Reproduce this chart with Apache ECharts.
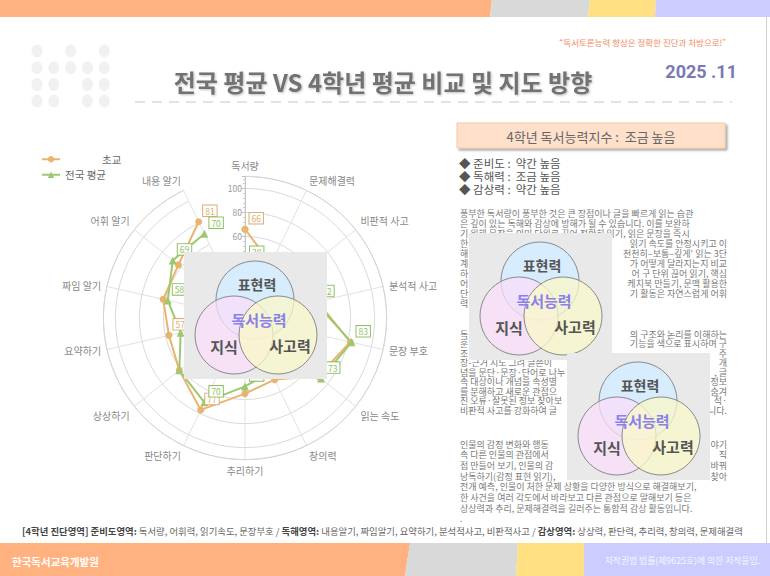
<!DOCTYPE html>
<html>
<head>
<meta charset="utf-8">
<title>전국 평균 VS 4학년 평균 비교 및 지도 방향</title>
<script src="https://cdn.jsdelivr.net/npm/echarts@6/dist/echarts.min.js"></script>
<style>
html, body { margin: 0; padding: 0; background: #fff; }
#chart { width: 770px; height: 576px; }
</style>
</head>
<body>
<div id="chart"></div>
<script>
// 진단 항목 (위에서부터 시계 방향)
const indicators = ['독서량', '문제해결력', '비판적 사고', '분석적 사고', '문장 부호', '읽는 속도', '창의력',
    '추리하기', '판단하기', '상상하기', '요약하기', '짜임 알기', '어휘 알기', '내용 알기']
const schoolValues = [66, 42, 48, 54, 82, 70, 49, 55, 77, 62, 57, 62, 63, 81]   // 초교
const nationalValues = [38, 40, 45, 52, 83, 73, 42, 49, 70, 62, 47, 58, 69, 70] // 전국 평균
const seriesNames = ['초교', '전국 평균']
const tickLabels = [60, 80, 100]

// 값 상자가 보이는 항목 (그 밖의 값 상자는 그림에 가려짐)
const schoolLabelAt = [0, 8, 10, 13]
const nationalLabelAt = [0, 3, 4, 5, 7, 8, 11, 12, 13]

const levelLines = ['◆ 준비도 :  약간 높음', '◆ 독해력 :  조금 높음', '◆ 감상력 :  약간 높음']

// [왼쪽부터, 오른쪽 끝에 맞춘 부분] - 그림에 가려진 가운데는 뺌
const para1 = [
    ['풍부한 독서량이 풍부한 것은 큰 장점이나 글을 빠르게 읽는 습관', ''],
    ['은 깊이 있는 독해와 감상에 방해가 될 수 있습니다. 이를 보완하', ''],
    ['기 위해 문장을 의미 단위로 끊어 정확히 읽기, 읽은 문장을 즉시', ''],
    ['한', '읽기 속도를 안정시키고 이'],
    ['해', '천천히–보통–깊게\' 읽는 3단'],
    ['계', '가 어떻게 달라지는지 비교'],
    ['하', '어 구 단위 끊어 읽기, 핵심'],
    ['어', '케치북 만들기, 문맥 활용한'],
    ['단', '기 활동은 자연스럽게 어휘'],
    ['력.', '']
]
const para2 = [
    ['독', '의 구조와 논리를 이해하는'],
    ['훈', '기능을 색으로 표시하며 구'],
    ['조', '주'],
    ['장-근거 지도 그려 글쓴이', '개'],
    ['념을 문단·문장·단어로 나누', ', 글'],
    ['속 대상이나 개념을 속성별', '정보'],
    ['를 분해하고 새로운 관점으', '숨겨'],
    ['진 오류·잘못된 정보 찾아보', '적·'],
    ['비판적 사고를 강화하여 글', '니다.']
]
const para3 = [
    ['인물의 감정 변화와 행동', '야기'],
    ['속 다른 인물의 관점에서', '직'],
    ['접 만들어 보기, 인물의 감', '바꿔'],
    ['낭독하기(감정 표현 읽기),', '찾아'],
    ['전개 예측, 인물이 처한 문제 상황을 다양한 방식으로 해결해보기,', ''],
    ['한 사건을 여러 각도에서 바라보고 다른 관점으로 말해보기 등은', ''],
    ['상상력과 추리, 문제해결력을 길러주는 통합적 감상 활동입니다.', '']
]

const KR = '"Noto Sans CJK KR", "Noto Sans", sans-serif'
const ORANGE = '#ebb46e'
const GREEN = '#9cc870'

const text = (x, y, str, size, color, extra) => ({
    type: 'text', x: x, y: y, z: 5,
    style: Object.assign({
        text: str, fontSize: size, fontFamily: KR, fill: color,
        align: 'left', verticalAlign: 'middle'
    }, extra || {})
})

const poly = (points, color) => ({type: 'polygon', z: 1, shape: {points: points}, style: {fill: color}})

// 벤 다이어그램 그림 (표현력 / 지식 / 사고력)
function venn(x, y) {
    const kids = [
        {type: 'rect', shape: {x: 0, y: 0, width: 143, height: 127}, style: {fill: '#e9e9e9'}},
        {type: 'circle', shape: {cx: 71, cy: 48, r: 39}, style: {fill: 'rgba(212,236,255,0.85)', stroke: '#8a8a8a', lineWidth: 1}},
        {type: 'circle', shape: {cx: 50, cy: 83, r: 39}, style: {fill: 'rgba(249,222,250,0.75)', stroke: '#8a8a8a', lineWidth: 1}},
        {type: 'circle', shape: {cx: 94, cy: 83, r: 39}, style: {fill: 'rgba(250,248,200,0.75)', stroke: '#8a8a8a', lineWidth: 1}},
        text(73, 32, '표현력', 14, '#555', {align: 'center', fontWeight: 'bold'}),
        text(75, 67, '독서능력', 15, '#8a80ea', {align: 'center', fontWeight: 'bold'}),
        text(40, 94, '지식', 15, '#555', {align: 'center', fontWeight: 'bold'}),
        text(106, 93, '사고력', 15, '#555', {align: 'center', fontWeight: 'bold'})
    ]
    kids.forEach(k => { k.z = 100 })
    return {type: 'group', x: x, y: y, z: 100, children: kids}
}

function paragraph(lines, y0, step) {
    const out = []
    lines.forEach((l, i) => {
        const y = y0 + i * step
        if (l[0]) out.push(text(460, y, l[0], 9, '#7a7a7a', {lineHeight: 9}))
        if (l[1]) out.push(text(727, y, l[1], 9, '#7a7a7a', {align: 'right', lineHeight: 9}))
    })
    return out
}

const dots = []
const dotRows = [[0, 2, 4], [0, 1, 2, 3, 4], [0, 1, 3, 4], [0, 1, 3, 4]]
dotRows.forEach((row, r) => row.forEach(c => {
    dots.push({type: 'ellipse', z: 1, shape: {cx: 37 + c * 16.8, cy: 51 + r * 16.7, rx: 5.5, ry: 6.5}, style: {fill: '#f1f1f1'}})
}))

const graphics = [].concat(
    [
        // 윗 띠
        poly([[0, 0], [492, 0], [490, 17], [0, 17]], '#ffb27f'),
        poly([[492, 0], [590, 0], [588, 17], [490, 17]], '#d9d9d9'),
        poly([[590, 0], [656, 0], [655, 17], [588, 17]], '#ffe083'),
        poly([[656, 0], [770, 0], [770, 17], [655, 17]], '#ccccff'),
        // 아래 띠
        poly([[0, 543], [410, 543], [405, 576], [0, 576]], '#ffb27f'),
        poly([[410, 543], [518, 543], [516, 576], [405, 576]], '#d9d9d9'),
        poly([[518, 543], [584, 543], [584, 576], [516, 576]], '#ffe083'),
        poly([[584, 543], [770, 543], [770, 576], [584, 576]], '#ccccff'),
        {type: 'line', z: 1, shape: {x1: 766.5, y1: 17, x2: 766.5, y2: 543}, style: {stroke: '#d0d0d0', lineWidth: 1}},
        {type: 'line', z: 1, shape: {x1: 135, y1: 102, x2: 732, y2: 102}, style: {stroke: '#e3e3e3', lineWidth: 2, lineDash: [10, 7]}}
    ],
    dots,
    [
        text(726, 42, '“독서토론능력 향상은 정확한 진단과 처방으로!”', 8.5, '#f28a62', {align: 'right'}),
        text(383, 81, '전국 평균 VS 4학년 평균 비교 및 지도 방향', 24, '#727272', {
            align: 'center', fontWeight: 'bold',
            textShadowColor: 'rgba(0,0,0,0.25)', textShadowBlur: 2, textShadowOffsetX: 1, textShadowOffsetY: 1
        }),
        text(737, 71, '2025 .11', 18, '#7a78b5', {align: 'right', fontWeight: 'bold', fontFamily: 'Roboto, sans-serif'}),
        {
            type: 'rect', z: 4, shape: {x: 457, y: 123, width: 268, height: 25},
            style: {fill: '#ffe1cb', stroke: '#f7c6a2', lineWidth: 1, shadowColor: 'rgba(0,0,0,0.35)', shadowBlur: 2, shadowOffsetX: 2, shadowOffsetY: 2}
        },
        text(591, 136, '4학년 독서능력지수 :  조금 높음', 13, '#666', {align: 'center'})
    ],
    levelLines.map((l, i) => text(459, 163 + i * 13, l, 11.5, '#555')),
    paragraph(para1, 213, 10),
    paragraph(para2, 334, 9.5),
    paragraph(para3, 444, 10.7),
    [
        text(460, 518, '.', 9, '#7a7a7a', {lineHeight: 8}),
        text(22, 531, '{b|[4학년 진단영역]} {b|준비도영역:} 독서량, 어휘력, 읽기속도, 문장부호 / {b|독해영역:} 내용알기, 짜임알기, 요약하기, 분석적사고, 비판적사고 / {b|감상영역:} 상상력, 판단력, 추리력, 창의력, 문제해결력',
            9.4, '#666', {rich: {b: {fontSize: 9.4, fontFamily: KR, fill: '#444', fontWeight: 'bold'}}}),
        text(12, 561, '한국독서교육개발원', 10.5, '#fff', {fontWeight: 'bold'}),
        text(760, 560, '저작권법 법률(제9625호)에 의한 저작물임.', 8.8, '#f7f7ff', {align: 'right'}),
        venn(184, 252),
        venn(469, 233),
        venn(567, 353)
    ]
)

const labelOf = color => ({
    show: true, position: 'right', distance: 1, offset: [0, -11],
    formatter: p => p.value[0],
    color: color, fontSize: 8.5, fontFamily: KR,
    backgroundColor: '#fff', borderColor: color, borderWidth: 1, padding: [1, 2]
})

// 마지막에 첫 점을 다시 넣어 다각형을 닫음
const closeLoop = (values, labelAt) => values.concat(values[0]).map((v, i) => ({
    value: [v, indicators[i % indicators.length]],
    label: {show: i < values.length && labelAt.indexOf(i) >= 0}
}))

const option = {
    animation: false,
    backgroundColor: '#fff',
    textStyle: {fontFamily: KR},
    legend: {
        data: seriesNames, orient: 'vertical', left: 36, top: 149,
        itemWidth: 18, itemHeight: 8, itemGap: 5,
        formatter: n => n === '초교' ? '{s|초교}' : n,
        textStyle: {fontSize: 10.5, color: '#666', rich: {s: {padding: [0, 0, 0, 37], fontSize: 10.5, color: '#666'}}}
    },
    polar: {center: [245, 318], radius: 141.6},
    angleAxis: {
        type: 'category', data: indicators, startAngle: 90, clockwise: true, boundaryGap: false,
        axisLine: {show: true, lineStyle: {color: '#d6d6d6'}},
        axisTick: {show: false},
        axisLabel: {interval: 0, color: '#888', fontSize: 10, margin: 6},
        splitLine: {show: true, lineStyle: {color: '#e2e2e2'}}
    },
    radiusAxis: {
        type: 'value', min: -8, max: 110, splitNumber: 6,
        axisLine: {show: true, lineStyle: {color: '#c4c4c4'}},
        axisTick: {show: true, length: 3, lineStyle: {color: '#bdbdbd'}},
        minorTick: {show: true, splitNumber: 5, length: 2, lineStyle: {color: '#cfcfcf'}},
        axisLabel: {formatter: v => tickLabels.indexOf(v) >= 0 ? v : '', color: '#999', fontSize: 8.5, margin: 3},
        splitLine: {show: true, lineStyle: {color: '#dadada'}}
    },
    series: [
        {
            name: seriesNames[0], type: 'line', coordinateSystem: 'polar',
            data: closeLoop(schoolValues, schoolLabelAt),
            symbol: 'circle', symbolSize: 7,
            itemStyle: {color: ORANGE}, lineStyle: {width: 2, color: ORANGE},
            label: labelOf('#dcae72')
        },
        {
            name: seriesNames[1], type: 'line', coordinateSystem: 'polar',
            data: closeLoop(nationalValues, nationalLabelAt),
            symbol: 'triangle', symbolSize: 8,
            itemStyle: {color: GREEN}, lineStyle: {width: 2, color: GREEN},
            label: labelOf('#8fbf62')
        }
    ],
    graphic: {elements: graphics}
}

const chart = echarts.init(document.getElementById('chart'), null, {renderer: 'svg'})
chart.setOption(option)
</script>
</body>
</html>
